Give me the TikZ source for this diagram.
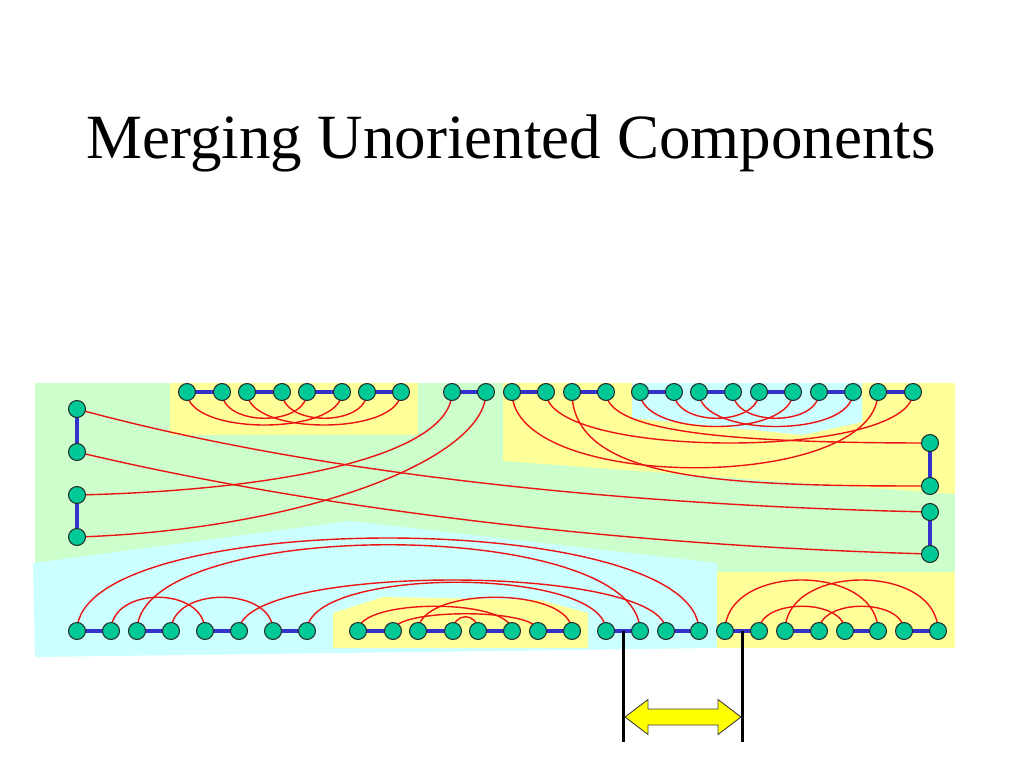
\documentclass[tikz,border=0pt]{standalone}
\usepackage{fontspec}
\setmainfont{Liberation Serif}
\usetikzlibrary{calc}
\definecolor{bggreen}{HTML}{CCFFCC}
\definecolor{bgyellow}{HTML}{FFFF99}
\definecolor{bgcyan}{HTML}{CCFFFF}
\definecolor{nodefill}{RGB}{0,200,150}
\definecolor{bondblue}{RGB}{51,51,204}
\definecolor{arcred}{RGB}{235,20,20}
\definecolor{arrowyellow}{HTML}{FFFF00}
\begin{document}
\begin{tikzpicture}[x=1pt,y=-1pt,
  vtx/.style={circle,draw=black!85,line width=1pt,fill=nodefill,minimum size=17pt,inner sep=0pt},
  bond/.style={draw=bondblue,line width=3.5pt},
  redarc/.style={draw=arcred,line width=1.4pt},
  vline/.style={draw=black,line width=3pt},
  titlefont/.style={font=\fontsize{63}{70}\selectfont}]
\useasboundingbox (0,0) rectangle (1024,768);
\fill[white] (0,0) rectangle (1024,768);
% background regions
\fill[bggreen] (35,383) rectangle (955,572);
\fill[bgyellow] (170,383) rectangle (418,435);
\fill[bgyellow] (503,383) -- (955,383) -- (955,494) -- (503,461) -- cycle;
\fill[bgcyan] (632,383) -- (862,383) -- (862,422) -- (803,435) -- (632,418) -- cycle;
\fill[bgcyan] (33,563) -- (350,521) -- (717,563) -- (717,648) -- (35,657) -- cycle;
\fill[bgyellow] (333,613) -- (383,597) -- (540,600) -- (588,613) -- (588,648) -- (333,648) -- cycle;
\fill[bgyellow] (717,572) rectangle (955,648);
% title
\node[titlefont,anchor=base] (title) at (511,158) {Merging Unoriented Components};
% node coordinates
\foreach \x [count=\i] in {187,222,247,282,307,342,367,401,452,486,512,546,572,606,640,674,699,733,759,793,819,853,878,913}
  \coordinate (t\i) at (\x,392);
\foreach \x [count=\i] in {77,111,137,171,205,239,273,307,358,393,418,453,478,512,538,572,606,640,666,699,725,759,785,819,845,878,904,938}
  \coordinate (b\i) at (\x,631);
\foreach \y [count=\i] in {409,452,495,537}
  \coordinate (l\i) at (77,\y);
\foreach \y [count=\i] in {443,486,512,554}
  \coordinate (r\i) at (930,\y);
% red arcs, top row
\draw[redarc] (t1) .. controls +(0,44) and +(0,44) .. (t6);
\draw[redarc] (t3) .. controls +(0,44) and +(0,44) .. (t8);
\draw[redarc] (t2) .. controls +(0,35) and +(0,35) .. (t5);
\draw[redarc] (t4) .. controls +(0,35) and +(0,35) .. (t7);
\draw[redarc] (t15) .. controls +(0,46) and +(0,46) .. (t20);
\draw[redarc] (t17) .. controls +(0,46) and +(0,46) .. (t22);
\draw[redarc] (t16) .. controls +(0,35) and +(0,35) .. (t19);
\draw[redarc] (t18) .. controls +(0,35) and +(0,35) .. (t21);
\draw[redarc] (t11) .. controls +(0,101) and +(0,101) .. (t23);
\draw[redarc] (t12) .. controls +(0,68) and +(0,68) .. (t24);
\draw[redarc] (t13) .. controls +(0,90) and +(-200,0) .. (r2);
\draw[redarc] (t14) .. controls +(0,40) and +(-200,0) .. (r1);
% red arcs, left column
\draw[redarc] (l3) .. controls +(220,-5) and +(0,60) .. (t9);
\draw[redarc] (l4) .. controls +(223,-7) and +(0,68) .. (t10);
\draw[redarc] (l1) .. controls +(223,61) and +(-330,-7) .. (r3);
\draw[redarc] (l2) .. controls +(223,53) and +(-330,-9) .. (r4);
% red arcs, bottom row
\draw[redarc] (b1) .. controls +(0,-124) and +(0,-124) .. (b20);
\draw[redarc] (b3) .. controls +(0,-115) and +(0,-115) .. (b18);
\draw[redarc] (b2) .. controls +(0,-45) and +(0,-45) .. (b5);
\draw[redarc] (b4) .. controls +(0,-45) and +(0,-45) .. (b7);
\draw[redarc] (b6) .. controls +(0,-68) and +(0,-68) .. (b19);
\draw[redarc] (b8) .. controls +(0,-65) and +(0,-65) .. (b17);
\draw[redarc] (b9) .. controls +(0,-33) and +(0,-33) .. (b14);
\draw[redarc] (b10) .. controls +(0,-23) and +(0,-23) .. (b15);
\draw[redarc] (b11) .. controls +(0,-45) and +(0,-45) .. (b16);
\draw[redarc] (b12) .. controls +(0,-19) and +(0,-19) .. (b13);
\draw[redarc] (b21) .. controls +(0,-68) and +(0,-68) .. (b26);
\draw[redarc] (b22) .. controls +(0,-33) and +(0,-33) .. (b25);
\draw[redarc] (b23) .. controls +(0,-68) and +(0,-68) .. (b28);
\draw[redarc] (b24) .. controls +(0,-33) and +(0,-33) .. (b27);
% blue bonds
\foreach \a/\b in {1/2,3/4,5/6,7/8,9/10,11/12,13/14,15/16,17/18,19/20,21/22,23/24}
  \draw[bond] (t\a) -- (t\b);
\foreach \a/\b in {1/2,3/4,5/6,7/8,9/10,11/12,13/14,15/16,17/18,19/20,21/22,23/24,25/26,27/28}
  \draw[bond] (b\a) -- (b\b);
\draw[bond] (l1) -- (l2);
\draw[bond] (l3) -- (l4);
\draw[bond] (r1) -- (r2);
\draw[bond] (r3) -- (r4);
% vertices
\foreach \i in {1,...,24} \node[vtx] (vt\i) at (t\i) {};
\foreach \i in {1,...,28} \node[vtx] (vb\i) at (b\i) {};
\foreach \i in {1,...,4} \node[vtx] (vl\i) at (l\i) {};
\foreach \i in {1,...,4} \node[vtx] (vr\i) at (r\i) {};
% breakpoint markers and double arrow
\coordinate (m1) at ($(b17)!0.5!(b18)$);
\coordinate (m2) at ($(b21)!0.5!(b22)$);
\coordinate (e1) at ($(m1)+(0,111)$);
\coordinate (e2) at ($(m2)+(0,111)$);
\draw[vline] (m1) -- (e1);
\draw[vline] (m2) -- (e2);
\filldraw[fill=arrowyellow,draw=black!75,line width=0.9pt]
  (625,717) -- (648,699.5) -- (648,709) -- (718,709) -- (718,699.5) -- (741,717)
  -- (718,734.5) -- (718,725) -- (648,725) -- (648,734.5) -- cycle;
\end{tikzpicture}
\end{document}
